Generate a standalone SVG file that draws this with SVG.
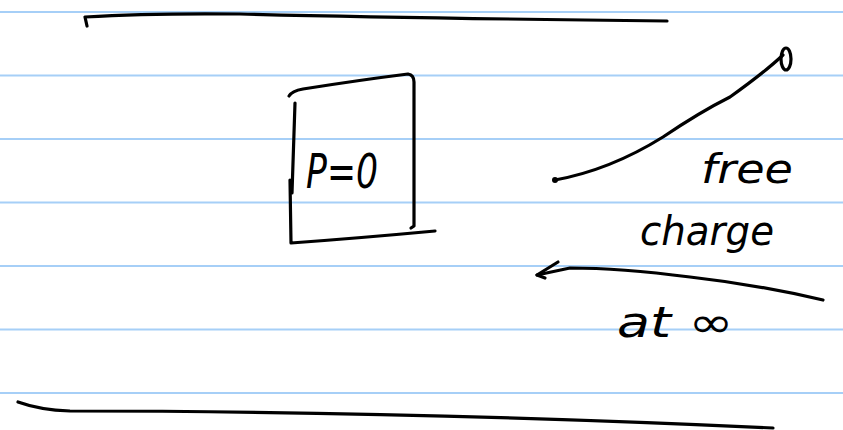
<svg xmlns="http://www.w3.org/2000/svg" width="843" height="430" viewBox="0 0 843 430">
<style>
.rule{stroke:#a6cff7;stroke-width:2;fill:none}
.ink{stroke:#000;stroke-width:3.2;fill:none;stroke-linecap:round;stroke-linejoin:round}
.hand{font-family:"DejaVu Sans",sans-serif;font-style:italic;fill:#000}
</style>
<rect width="843" height="430" fill="#fff"/>
<g id="rules">
<line class="rule" x1="0" y1="12" x2="843" y2="12"/>
<line class="rule" x1="0" y1="75.5" x2="843" y2="75.5"/>
<line class="rule" x1="0" y1="139" x2="843" y2="139"/>
<line class="rule" x1="0" y1="202.5" x2="843" y2="202.5"/>
<line class="rule" x1="0" y1="266" x2="843" y2="266"/>
<line class="rule" x1="0" y1="329.5" x2="843" y2="329.5"/>
<line class="rule" x1="0" y1="393" x2="843" y2="393"/>
</g>
<g id="top-line">
<path class="ink" d="M87,26 L85,17 Q150,13 240,14 Q400,18 667,21"/>
</g>
<g id="bottom-line">
<path class="ink" d="M18,402 Q40,410 70,411 Q400,411 773,428"/>
</g>
<g id="box">
<path class="ink" d="M289,96 Q292,91 303,89 Q360,80 408,74 Q414,75 414,82 L414,226 L411,228"/>
<path class="ink" d="M295,103 L292,193"/>
<path class="ink" d="M290,180 L291,243 Q360,238 435,231"/>
<text class="hand" x="306" y="188" font-size="48" textLength="72" lengthAdjust="spacingAndGlyphs">P=0</text>
</g>
<g id="connectors">
<path class="ink" d="M555,180 Q610,170 663,137 Q700,112 730,97 Q765,72 783,55"/>
<circle cx="555" cy="180" r="3" fill="#000"/>
<ellipse class="ink" cx="786" cy="59" rx="5" ry="11" stroke-width="2.5"/>
<path class="ink" d="M823,300 Q760,285 690,277 Q620,268 570,268 L537,275"/>
<path class="ink" d="M558,262 L537,275 L545,278"/>
</g>
<g id="labels">
<text class="hand" x="701" y="183" font-size="40" textLength="92" lengthAdjust="spacingAndGlyphs">free</text>
<text class="hand" x="640" y="245" font-size="40" textLength="134" lengthAdjust="spacingAndGlyphs">charge</text>
<text class="hand" x="617" y="337" font-size="42" textLength="116" lengthAdjust="spacingAndGlyphs">at ∞</text>
</g>
</svg>
